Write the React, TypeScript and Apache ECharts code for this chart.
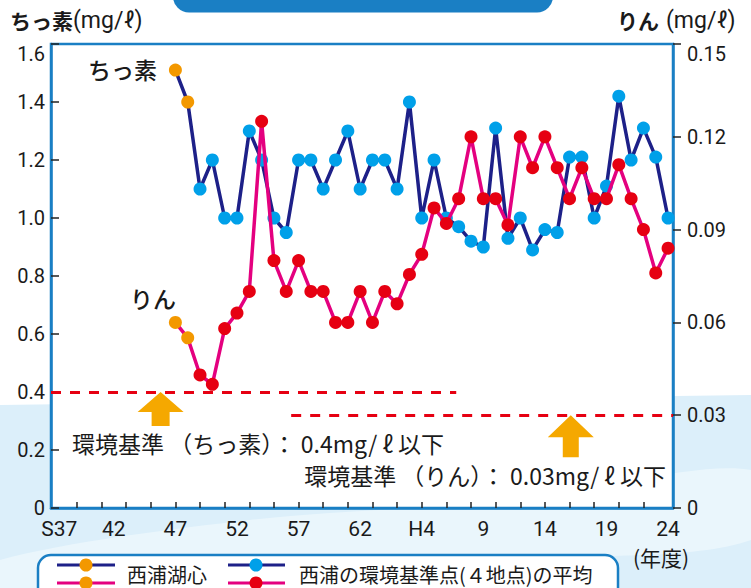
import React, { useEffect, useRef } from "react";
import * as echarts from "echarts";

// ---- data ----
const lakeYears = [1972, 1973];
const lakeN = [1.51, 1.40];
const lakeP = [0.060, 0.055];

const stationYears = [
  1974, 1975, 1976, 1977, 1978, 1979, 1980, 1981, 1982, 1983,
  1984, 1985, 1986, 1987, 1988, 1989, 1990, 1991, 1992, 1993,
  1994, 1995, 1996, 1997, 1998, 1999, 2000, 2001, 2002, 2003,
  2004, 2005, 2006, 2007, 2008, 2009, 2010, 2011, 2012,
];
const stationN = [
  1.10, 1.20, 1.00, 1.00, 1.30, 1.20, 1.00, 0.95, 1.20, 1.20,
  1.10, 1.20, 1.30, 1.10, 1.20, 1.20, 1.10, 1.40, 1.00, 1.20,
  1.00, 0.97, 0.92, 0.90, 1.31, 0.93, 1.00, 0.89, 0.96, 0.95,
  1.21, 1.21, 1.00, 1.11, 1.42, 1.20, 1.31, 1.21, 1.00,
];
const stationP = [
  0.043, 0.040, 0.058, 0.063, 0.070, 0.125, 0.080, 0.070, 0.080, 0.070,
  0.070, 0.060, 0.060, 0.070, 0.060, 0.070, 0.066, 0.0755, 0.082, 0.097,
  0.092, 0.100, 0.120, 0.100, 0.100, 0.0915, 0.120, 0.110, 0.120, 0.110,
  0.100, 0.110, 0.100, 0.100, 0.111, 0.100, 0.090, 0.076, 0.084,
];

const labelYears = [1962, 1967, 1972, 1977, 1982, 1987, 1992, 1997, 2002, 2007, 2012];
const labelTexts = ["S37", "42", "47", "52", "57", "62", "H4", "9", "14", "19", "24"];
const tickYears = [
  1964, 1966, 1968, 1970, 1972, 1974, 1976, 1978, 1980, 1982, 1984, 1986,
  1988, 1990, 1992, 1994, 1996, 1998, 2000, 2002, 2004, 2006, 2008, 2010,
];

const nStandard = 0.4;
const pStandard = 0.03;

const C = {
  navy: "#1d2088",
  pink: "#e4007f",
  blue: "#00a0e9",
  red: "#e60012",
  orange: "#f39800",
  frame: "#1a7fc4",
  arrow: "#f5a800",
  text: "#1a1a1a",
};

const JP = '"Noto Sans CJK JP", "Noto Sans", sans-serif';
const NUM = 'Roboto, "Noto Sans", sans-serif';
const NARROW = '"Liberation Sans Narrow", Roboto, sans-serif';

export default function App() {
  const ref = useRef<HTMLDivElement>(null);

  useEffect(() => {
    if (!ref.current) return;
    const chart = echarts.init(ref.current, null, { renderer: "svg" });

    const nData = [
      ...lakeYears.map((y, i) => ({ value: [y, lakeN[i]], itemStyle: { color: C.orange } })),
      ...stationYears.map((y, i) => ({ value: [y, stationN[i]], itemStyle: { color: C.blue } })),
    ];
    const pData = [
      ...lakeYears.map((y, i) => ({ value: [y, lakeP[i]], itemStyle: { color: C.orange } })),
      ...stationYears.map((y, i) => ({ value: [y, stationP[i]], itemStyle: { color: C.red } })),
    ];

    const arrowN = "path://M23,0 L46,20 L32,20 L32,34 L14,34 L14,20 L0,20 Z";
    const arrowP = "path://M23,0 L46,22 L31,22 L31,42 L15,42 L15,22 L0,22 Z";

    const txt = (text: string, x: number, y: number, font: string, align = "left", fill = C.text) => ({
      type: "text",
      style: {
        text, x, y, font, fill,
        align, verticalAlign: "middle",
        textAlign: align, textVerticalAlign: "middle",
      },
      z: 50,
    });

    const option: any = {
      animation: false,
      backgroundColor: "#fff",
      grid: {
        left: 51, right: 78, top: 44, bottom: 80,
        show: true, borderColor: C.frame, borderWidth: 2.5, backgroundColor: "#fff",
      },
      xAxis: {
        type: "value",
        min: 1961.9,
        max: 2012.4,
        splitLine: { show: false },
        axisLine: { show: true, lineStyle: { color: C.frame, width: 2.5 } },
        axisTick: {
          show: true, inside: true, length: 6,
          customValues: tickYears,
          lineStyle: { color: "#222", width: 1.5 },
        },
        axisLabel: {
          customValues: labelYears,
          formatter: (v: number) => {
            const i = labelYears.indexOf(Math.round(v));
            if (i === 0) return "{s|" + labelTexts[i] + "}";
            return i >= 0 ? labelTexts[i] : "";
          },
          rich: {
            s: { fontSize: 21, fontFamily: NUM, color: C.text, padding: [0, 0, 0, 14] },
          },
          fontSize: 21, fontFamily: NUM, color: C.text, margin: 10,
        },
      },
      yAxis: [
        {
          type: "value", min: 0, max: 1.6, interval: 0.2, position: "left",
          splitLine: { show: false },
          axisLine: { show: true, lineStyle: { color: C.frame, width: 2.5 } },
          axisTick: { show: true, inside: true, length: 8, lineStyle: { color: "#222", width: 1.5 } },
          axisLabel: {
            formatter: (v: number) => (v === 0 ? "0" : v.toFixed(1)),
            fontSize: 20, fontFamily: NUM, color: C.text, margin: 6,
            verticalAlignMaxLabel: "top",
          },
        },
        {
          type: "value", min: 0, max: 0.15, interval: 0.03, position: "right",
          splitLine: { show: false },
          axisLine: { show: true, lineStyle: { color: C.frame, width: 2.5 } },
          axisTick: { show: true, inside: false, length: 8, lineStyle: { color: "#222", width: 1.5 } },
          axisLabel: {
            formatter: (v: number) => (Math.abs(v) < 1e-9 ? "0" : v.toFixed(2)),
            fontSize: 20, fontFamily: NUM, color: C.text, margin: 14,
            verticalAlignMaxLabel: "top",
          },
        },
      ],
      series: [
        {
          type: "line",
          name: "ちっ素",
          yAxisIndex: 0,
          data: nData,
          symbol: "circle",
          symbolSize: 13,
          lineStyle: { color: C.navy, width: 3.5 },
          itemStyle: { color: C.blue },
          z: 3,
          markLine: {
            silent: true,
            symbol: ["none", "none"],
            label: { show: false },
            lineStyle: { color: C.red, width: 3, type: [10, 9] },
            data: [[{ coord: [1961.9, nStandard] }, { coord: [1994.8, nStandard] }]],
          },
          markPoint: {
            silent: true,
            label: { show: false },
            data: [{
              coord: [1970.8, nStandard], symbol: arrowN, symbolSize: [46, 34],
              symbolOffset: [0, 17], itemStyle: { color: C.arrow },
            }],
          },
        },
        {
          type: "line",
          name: "りん",
          yAxisIndex: 1,
          data: pData,
          symbol: "circle",
          symbolSize: 13,
          lineStyle: { color: C.pink, width: 3.5 },
          itemStyle: { color: C.red },
          z: 4,
          markLine: {
            silent: true,
            symbol: ["none", "none"],
            label: { show: false },
            lineStyle: { color: C.red, width: 3, type: [10, 9] },
            data: [[{ coord: [1981.4, pStandard] }, { coord: [2012.4, pStandard] }]],
          },
          markPoint: {
            silent: true,
            label: { show: false },
            data: [{
              coord: [2004.1, pStandard], symbol: arrowP, symbolSize: [46, 42],
              symbolOffset: [0, 21], itemStyle: { color: C.arrow },
            }],
          },
        },
      ],
      graphic: [
        // background swoosh
        {
          type: "polygon", z: -20, silent: true,
          shape: { points: [[0, 405], [751, 395], [751, 588], [0, 588]] },
          style: { fill: "#dcEFFA" },
        },
        {
          type: "polygon", z: -19, silent: true,
          shape: { points: [[0, 560], [250, 520], [520, 500], [751, 470], [751, 540], [500, 560], [200, 588], [0, 588]], smooth: 0.3 },
          style: { fill: "#eaf6fc" },
        },
        // top banner
        {
          type: "rect", z: 10, silent: true,
          shape: { x: 173, y: -30, width: 380, height: 42.5, r: 16 },
          style: { fill: C.frame },
        },
        // axis titles
        txt("ちっ素", 10, 20, `bold 21px ${JP}`),
        txt("(mg/ℓ)", 73, 20, `23px ${NARROW}`),
        txt("りん", 617, 20, `bold 21px ${JP}`),
        txt("(mg/ℓ)", 666, 20, `23px ${NARROW}`),
        // series labels
        txt("ちっ素", 88, 69, `500 23px ${JP}`),
        txt("りん", 130, 298, `500 23px ${JP}`),
        // standards
        txt("環境基準 （ちっ素）： 0.4mg/ ℓ 以下", 72, 443, `23px ${JP}`),
        txt("環境基準 （りん）： 0.03mg/ ℓ 以下", 666, 475, `23px ${JP}`, "right"),
        // (年度)
        txt("(年度)", 661, 557, `21px ${JP}`, "center"),
        // legend
        {
          type: "rect", z: 40,
          shape: { x: 38, y: 555, width: 580, height: 50, r: 13 },
          style: { fill: "#fff", stroke: C.frame, lineWidth: 2.5 },
        },
        { type: "line", z: 41, shape: { x1: 57, y1: 565, x2: 115, y2: 565 }, style: { stroke: C.navy, lineWidth: 3 } },
        { type: "line", z: 41, shape: { x1: 57, y1: 583, x2: 115, y2: 583 }, style: { stroke: C.pink, lineWidth: 3 } },
        { type: "circle", z: 42, shape: { cx: 86, cy: 565, r: 6.5 }, style: { fill: C.orange } },
        { type: "circle", z: 42, shape: { cx: 86, cy: 583, r: 6.5 }, style: { fill: C.orange } },
        txt("西浦湖心", 127, 574, `20px ${JP}`),
        { type: "line", z: 41, shape: { x1: 228, y1: 565, x2: 285, y2: 565 }, style: { stroke: C.navy, lineWidth: 3 } },
        { type: "line", z: 41, shape: { x1: 228, y1: 583, x2: 285, y2: 583 }, style: { stroke: C.pink, lineWidth: 3 } },
        { type: "circle", z: 42, shape: { cx: 256, cy: 565, r: 6.5 }, style: { fill: C.blue } },
        { type: "circle", z: 42, shape: { cx: 256, cy: 583, r: 6.5 }, style: { fill: C.red } },
        txt("西浦の環境基準点(４地点)の平均", 299, 574, `20px ${JP}`),
      ],
    };

    chart.setOption(option);
    return () => chart.dispose();
  }, []);

  return (
    <div
      ref={ref}
      style={{ position: "fixed", left: 0, top: 0, width: 751, height: 588, background: "#fff" }}
    />
  );
}
